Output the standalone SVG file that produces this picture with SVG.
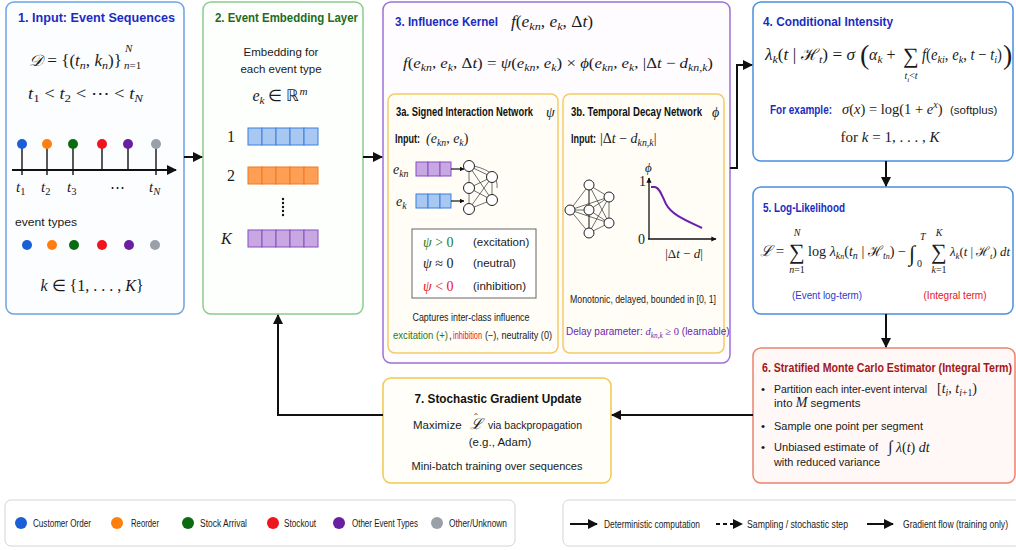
<svg xmlns="http://www.w3.org/2000/svg" width="1016" height="550" viewBox="0 0 1016 550">
<style>
.t{font-family:"Liberation Sans",Arial,sans-serif;font-weight:bold;font-size:12.5px}
.x{font-family:"Liberation Sans",Arial,sans-serif;font-size:11.5px}
.sm{font-family:"Liberation Sans",Arial,sans-serif;font-size:10px}
.m{font-family:"Liberation Serif","Times New Roman",serif;font-style:italic}
.u{font-style:normal}
.s{font-size:70%;baseline-shift:-3px}
.p{font-size:70%;baseline-shift:6px}
.box{stroke-width:1.5}
.ln{stroke:#111;stroke-width:2;fill:none}
.nn{fill:#fff;stroke:#222;stroke-width:1}
.ed{stroke:#333;stroke-width:0.7}
</style>
<defs>
<marker id="ah" viewBox="0 0 10 10" refX="9" refY="5" markerWidth="5" markerHeight="5" orient="auto"><path d="M0,0 L10,5 L0,10 z" fill="#111"/></marker>
<marker id="ah2" viewBox="0 0 10 10" refX="9" refY="5" markerWidth="4" markerHeight="4" orient="auto"><path d="M0,0 L10,5 L0,10 z" fill="#111"/></marker>
</defs>
<rect width="1016" height="550" fill="#fff"/>
<g fill="#1a1a1a">

<!-- Box 1 -->
<g id="n1">
<rect class="box" x="6" y="2" width="178" height="312" rx="8" fill="#fbfdff" stroke="#6aa3e6"/>
<text class="t" x="18" y="22" fill="#1a2cc0" textLength="157" lengthAdjust="spacingAndGlyphs">1. Input: Event Sequences</text>
<text class="m" x="29" y="66" font-size="16" textLength="93" lengthAdjust="spacingAndGlyphs">𝒟 <tspan class="u">= {(</tspan>t<tspan class="s">n</tspan><tspan class="u">, </tspan>k<tspan class="s">n</tspan><tspan class="u">)}</tspan></text>
<text class="m" x="125" y="52" font-size="11">N</text>
<text class="m" x="124" y="69" font-size="11">n<tspan class="u">=1</tspan></text>
<text class="m" x="28" y="99" font-size="16" textLength="115" lengthAdjust="spacingAndGlyphs">t<tspan class="s u">1</tspan><tspan class="u"> &lt; </tspan>t<tspan class="s u">2</tspan><tspan class="u"> &lt; ⋯ &lt; </tspan>t<tspan class="s">N</tspan></text>
<line x1="12" y1="170" x2="176" y2="170" class="ln" stroke-width="1.6" marker-end="url(#ah)"/>
<g stroke="#111" stroke-width="1.4">
<line x1="22" y1="144" x2="22" y2="175"/><line x1="47" y1="144" x2="47" y2="175"/><line x1="73" y1="144" x2="73" y2="175"/><line x1="102" y1="144" x2="102" y2="170"/><line x1="128" y1="144" x2="128" y2="170"/><line x1="156" y1="144" x2="156" y2="175"/>
</g>
<circle cx="22" cy="144" r="5" fill="#1a5fd6"/><circle cx="47" cy="144" r="5" fill="#ff7f0e"/><circle cx="73" cy="144" r="5" fill="#0b6b12"/><circle cx="102" cy="144" r="5" fill="#f0141e"/><circle cx="128" cy="144" r="5" fill="#6a1fa0"/><circle cx="156" cy="144" r="5" fill="#9aa0a8"/>
<text class="m" font-size="15" y="192"><tspan x="16">t<tspan class="s u">1</tspan></tspan><tspan x="41">t<tspan class="s u">2</tspan></tspan><tspan x="67">t<tspan class="s u">3</tspan></tspan><tspan x="110" class="u">⋯</tspan><tspan x="149">t<tspan class="s">N</tspan></tspan></text>
<text class="x" x="15" y="226" textLength="62" lengthAdjust="spacingAndGlyphs">event types</text>
<circle cx="27" cy="245" r="5" fill="#1a5fd6"/><circle cx="52" cy="245" r="5" fill="#ff7f0e"/><circle cx="74" cy="245" r="5" fill="#0b6b12"/><circle cx="102" cy="245" r="5" fill="#f0141e"/><circle cx="129" cy="245" r="5" fill="#6a1fa0"/><circle cx="155" cy="245" r="5" fill="#9aa0a8"/>
<text class="m" x="92" y="291" font-size="16" text-anchor="middle">k <tspan class="u">∈ {1, . . . , </tspan>K<tspan class="u">}</tspan></text>
</g>

<!-- Box 2 -->
<g id="n2">
<rect class="box" x="203" y="2" width="160" height="312" rx="8" fill="#fdfffd" stroke="#8ccb8c"/>
<text class="t" x="215" y="22" fill="#1f6b22" textLength="143" lengthAdjust="spacingAndGlyphs">2. Event Embedding Layer</text>
<text class="x" x="281" y="56" text-anchor="middle">Embedding for</text>
<text class="x" x="281" y="73" text-anchor="middle">each event type</text>
<text class="m" x="280" y="101" font-size="16" text-anchor="middle">e<tspan class="s">k</tspan><tspan class="u"> ∈ ℝ</tspan><tspan class="p">m</tspan></text>
<text class="m u" x="227" y="142" font-size="16">1</text>
<text class="m u" x="227" y="181" font-size="16">2</text>
<text class="m" x="221" y="244" font-size="16">K</text>
<g stroke="#3b7fe0" fill="#a8c8f2" stroke-width="1"><rect x="248" y="128" width="14" height="17"/><rect x="262" y="128" width="14" height="17"/><rect x="276" y="128" width="14" height="17"/><rect x="290" y="128" width="14" height="17"/><rect x="304" y="128" width="14" height="17"/></g>
<g stroke="#f07a20" fill="#ff9e55" stroke-width="1"><rect x="248" y="167" width="14" height="17"/><rect x="262" y="167" width="14" height="17"/><rect x="276" y="167" width="14" height="17"/><rect x="290" y="167" width="14" height="17"/><rect x="304" y="167" width="14" height="17"/></g>
<g stroke="#8a4cc0" fill="#c8a8e2" stroke-width="1"><rect x="248" y="230" width="14" height="17"/><rect x="262" y="230" width="14" height="17"/><rect x="276" y="230" width="14" height="17"/><rect x="290" y="230" width="14" height="17"/><rect x="304" y="230" width="14" height="17"/></g>
<g fill="#111"><circle cx="283" cy="199" r="1.2"/><circle cx="283" cy="203" r="1.2"/><circle cx="283" cy="207" r="1.2"/><circle cx="283" cy="211" r="1.2"/><circle cx="283" cy="215" r="1.2"/></g>
</g>

<!-- Box 3 -->
<g id="n3">
<rect class="box" x="383" y="2" width="347" height="361" rx="8" fill="#fefcff" stroke="#9d70d6"/>
<text class="t" x="395" y="26" fill="#1a2cc0" textLength="103" lengthAdjust="spacingAndGlyphs">3. Influence Kernel</text>
<text class="m" x="511" y="27" font-size="16" textLength="82" lengthAdjust="spacingAndGlyphs">f<tspan class="u">(</tspan>e<tspan class="s">kn</tspan><tspan class="u">, </tspan>e<tspan class="s">k</tspan><tspan class="u">, Δ</tspan>t<tspan class="u">)</tspan></text>
<text class="m" x="403" y="68" font-size="15" textLength="310" lengthAdjust="spacingAndGlyphs">f<tspan class="u">(</tspan>e<tspan class="s">kn</tspan><tspan class="u">, </tspan>e<tspan class="s">k</tspan><tspan class="u">, Δ</tspan>t<tspan class="u">) = </tspan>ψ<tspan class="u">(</tspan>e<tspan class="s">kn</tspan><tspan class="u">, </tspan>e<tspan class="s">k</tspan><tspan class="u">) × </tspan>ϕ<tspan class="u">(</tspan>e<tspan class="s">kn</tspan><tspan class="u">, </tspan>e<tspan class="s">k</tspan><tspan class="u">, |Δ</tspan>t<tspan class="u"> − </tspan>d<tspan class="s">kn,k</tspan><tspan class="u">)</tspan></text>
</g>

<!-- Box 3a -->
<g id="n3a">
<rect class="box" x="388" y="94" width="170" height="259" rx="7" fill="#fffdf6" stroke="#f3cb66"/>
<text class="t" x="396" y="116" font-size="9.6" fill="#111" textLength="137" lengthAdjust="spacingAndGlyphs">3a. Signed Interaction Network</text>
<text class="m" x="546" y="117" font-size="14">ψ</text>
<text class="t" x="395" y="143" font-size="10.5" fill="#111" textLength="25" lengthAdjust="spacingAndGlyphs">Input:</text>
<text class="m" x="426" y="143" font-size="14">(e<tspan class="s">kn</tspan><tspan class="u">, </tspan>e<tspan class="s">k</tspan><tspan class="u">)</tspan></text>
<text class="m" x="393" y="174" font-size="14">e<tspan class="s">kn</tspan></text>
<text class="m" x="396" y="206" font-size="14">e<tspan class="s">k</tspan></text>
<g stroke="#8a4cc0" fill="#c8a8e2" stroke-width="1"><rect x="416" y="162" width="12" height="14"/><rect x="428" y="162" width="12" height="14"/><rect x="440" y="162" width="11" height="14"/></g>
<g stroke="#3b7fe0" fill="#a8c8f2" stroke-width="1"><rect x="416" y="194" width="12" height="14"/><rect x="428" y="194" width="12" height="14"/><rect x="440" y="194" width="11" height="14"/></g>
<line x1="451" y1="169" x2="464" y2="169" stroke="#111" stroke-width="1.2" marker-end="url(#ah2)"/>
<line x1="451" y1="201" x2="464" y2="201" stroke="#111" stroke-width="1.2" marker-end="url(#ah2)"/>
<g class="ed">
<line x1="469" y1="166" x2="492" y2="177"/><line x1="469" y1="166" x2="492" y2="200"/><line x1="469" y1="188" x2="492" y2="177"/><line x1="469" y1="188" x2="492" y2="200"/><line x1="469" y1="209" x2="492" y2="177"/><line x1="469" y1="209" x2="492" y2="200"/>
<line x1="469" y1="166" x2="469" y2="209"/><line x1="492" y1="177" x2="492" y2="200"/>
<path d="M474,166 Q499,172 497,188" fill="none"/>
</g>
<circle class="nn" cx="469" cy="166" r="5.5"/><circle class="nn" cx="469" cy="188" r="5.5"/><circle class="nn" cx="469" cy="209" r="5.5"/><circle class="nn" cx="492" cy="177" r="5.5"/><circle class="nn" cx="492" cy="200" r="5.5"/>
<rect x="412" y="229" width="124" height="69" fill="#fff" stroke="#666" stroke-width="1"/>
<text class="m" x="423" y="247" font-size="14" fill="#1f7a1f">ψ <tspan class="u">&gt; 0</tspan></text>
<text class="m" x="423" y="268" font-size="14">ψ <tspan class="u">≈ 0</tspan></text>
<text class="m" x="423" y="291" font-size="14" fill="#e8141e">ψ <tspan class="u">&lt; 0</tspan></text>
<text class="x" x="473" y="246" font-size="11">(excitation)</text>
<text class="x" x="473" y="267" font-size="11">(neutral)</text>
<text class="x" x="473" y="290" font-size="11">(inhibition)</text>
<text class="sm" x="471" y="321" text-anchor="middle" textLength="117" lengthAdjust="spacingAndGlyphs">Captures inter-class influence</text>
<text class="sm" x="393" y="339" font-size="9" fill="#1f7a1f" textLength="55" lengthAdjust="spacingAndGlyphs">excitation (+)</text>
<text class="sm" x="449" y="339" font-size="9">,</text>
<text class="sm" x="453" y="339" font-size="9" fill="#e8141e" textLength="29" lengthAdjust="spacingAndGlyphs">inhibition</text>
<text class="sm" x="485" y="339" font-size="9" textLength="67" lengthAdjust="spacingAndGlyphs">(−), neutrality (0)</text>
</g>

<!-- Box 3b -->
<g id="n3b">
<rect class="box" x="563" y="94" width="161" height="259" rx="7" fill="#fffdf6" stroke="#f3cb66"/>
<text class="t" x="571" y="116" font-size="9.8" fill="#111" textLength="131" lengthAdjust="spacingAndGlyphs">3b. Temporal Decay Network</text>
<text class="m" x="712" y="117" font-size="14">ϕ</text>
<text class="t" x="571" y="143" font-size="10.5" fill="#111" textLength="25" lengthAdjust="spacingAndGlyphs">Input:</text>
<text class="m" x="600" y="143" font-size="14"><tspan class="u">|Δ</tspan>t<tspan class="u"> − </tspan>d<tspan class="s">kn,k</tspan><tspan class="u">|</tspan></text>
<g class="ed">
<line x1="589" y1="185" x2="570" y2="210"/><line x1="589" y1="185" x2="589" y2="210"/><line x1="589" y1="185" x2="609" y2="197"/><line x1="589" y1="185" x2="609" y2="223"/><line x1="589" y1="185" x2="589" y2="233"/>
<line x1="570" y1="210" x2="589" y2="210"/><line x1="570" y1="210" x2="589" y2="233"/><line x1="570" y1="210" x2="609" y2="197"/>
<line x1="589" y1="210" x2="609" y2="197"/><line x1="589" y1="210" x2="609" y2="223"/><line x1="589" y1="210" x2="589" y2="233"/>
<line x1="609" y1="197" x2="609" y2="223"/><line x1="609" y1="197" x2="589" y2="233"/><line x1="609" y1="223" x2="589" y2="233"/><line x1="609" y1="223" x2="570" y2="210"/>
</g>
<circle class="nn" cx="589" cy="185" r="5"/><circle class="nn" cx="570" cy="210" r="5"/><circle class="nn" cx="589" cy="210" r="5"/><circle class="nn" cx="609" cy="197" r="5"/><circle class="nn" cx="609" cy="223" r="5"/><circle class="nn" cx="589" cy="233" r="5"/>
<line x1="649" y1="239" x2="649" y2="178" stroke="#111" stroke-width="1.3" marker-end="url(#ah2)"/>
<line x1="648" y1="239" x2="716" y2="239" stroke="#111" stroke-width="1.3" marker-end="url(#ah2)"/>
<text class="m" x="645" y="172" font-size="13">ϕ</text>
<text class="m u" x="639" y="186" font-size="14">1</text>
<text class="m u" x="638" y="244" font-size="14">0</text>
<text class="m" x="684" y="258" font-size="13" text-anchor="middle"><tspan class="u">|Δ</tspan>t<tspan class="u"> − </tspan>d<tspan class="u">|</tspan></text>
<path d="M651,187 L655,187 C660,188 662,196 666,204 C672,215 685,220 702,228" fill="none" stroke="#6a1fb0" stroke-width="2"/>
<text class="sm" x="643" y="303" text-anchor="middle" textLength="146" lengthAdjust="spacingAndGlyphs">Monotonic, delayed, bounded in [0, 1]</text>
<text class="sm" x="566" y="335" fill="#6a1fb0" font-size="9.5">Delay parameter: <tspan class="m" font-size="10.5">d<tspan class="s">kn,k</tspan><tspan class="u"> ≥ 0</tspan></tspan> (learnable)</text>
</g>

<!-- Box 4 -->
<g id="n4">
<rect class="box" x="753" y="2" width="260" height="159" rx="8" fill="#fff" stroke="#4a8fe0"/>
<text class="t" x="763" y="26" fill="#1a2cc0" textLength="130" lengthAdjust="spacingAndGlyphs">4. Conditional Intensity</text>
<text class="m" x="765" y="60" font-size="16" textLength="90" lengthAdjust="spacingAndGlyphs">λ<tspan class="s">k</tspan><tspan class="u">(</tspan>t<tspan class="u"> | ℋ</tspan><tspan class="s">t</tspan><tspan class="u">) = </tspan>σ</text>
<text class="m u" x="860" y="64" font-size="28">(</text>
<text class="m" x="869" y="60" font-size="16">α<tspan class="s">k</tspan><tspan class="u"> +</tspan></text>
<text class="m u" x="903" y="63" font-size="22">∑</text>
<text class="m" x="911" y="79" font-size="10" text-anchor="middle">t<tspan class="s">i</tspan><tspan class="u">&lt;</tspan>t</text>
<text class="m" x="922" y="60" font-size="16" textLength="80" lengthAdjust="spacingAndGlyphs">f<tspan class="u">(</tspan>e<tspan class="s">ki</tspan><tspan class="u">, </tspan>e<tspan class="s">k</tspan><tspan class="u">, </tspan>t<tspan class="u"> − </tspan>t<tspan class="s">i</tspan><tspan class="u">)</tspan></text>
<text class="m u" x="1003" y="64" font-size="28">)</text>
<text class="t" x="770" y="114" fill="#1a2cc0" font-size="11.5" textLength="62" lengthAdjust="spacingAndGlyphs">For example:</text>
<text class="m" x="842" y="114" font-size="14.5">σ<tspan class="u">(</tspan>x<tspan class="u">) = log(1 + </tspan>e<tspan class="p">x</tspan><tspan class="u">)</tspan></text>
<text class="x" x="950" y="114" font-size="11">(softplus)</text>
<text class="m" x="890" y="142" font-size="15" text-anchor="middle"><tspan class="u">for </tspan>k<tspan class="u"> = 1, . . . , </tspan>K</text>
</g>

<!-- Box 5 -->
<g id="n5">
<rect class="box" x="753" y="187" width="260" height="127" rx="8" fill="#fff" stroke="#4a8fe0"/>
<text class="t" x="763" y="212" fill="#1a2cc0" textLength="82" lengthAdjust="spacingAndGlyphs">5. Log-Likelihood</text>
<text class="m" x="760" y="256" font-size="15">ℒ <tspan class="u">=</tspan></text>
<text class="m u" x="789" y="259" font-size="22">∑</text>
<text class="m" x="797" y="236" font-size="10" text-anchor="middle">N</text>
<text class="m" x="797" y="273" font-size="10" text-anchor="middle">n<tspan class="u">=1</tspan></text>
<text class="m" x="808" y="256" font-size="14" textLength="98" lengthAdjust="spacingAndGlyphs"><tspan class="u">log </tspan>λ<tspan class="s">k<tspan font-size="80%">n</tspan></tspan><tspan class="u">(</tspan>t<tspan class="s">n</tspan><tspan class="u"> | ℋ</tspan><tspan class="s">t<tspan font-size="80%">n</tspan></tspan><tspan class="u">) −</tspan></text>
<text class="m u" x="909" y="261" font-size="22">∫</text>
<text class="m" x="920" y="240" font-size="10">T</text>
<text class="m u" x="917" y="267" font-size="10">0</text>
<text class="m u" x="931" y="259" font-size="22">∑</text>
<text class="m" x="939" y="236" font-size="10" text-anchor="middle">K</text>
<text class="m" x="939" y="273" font-size="10" text-anchor="middle">k<tspan class="u">=1</tspan></text>
<text class="m" x="950" y="256" font-size="13" textLength="60" lengthAdjust="spacingAndGlyphs">λ<tspan class="s">k</tspan><tspan class="u">(</tspan>t<tspan class="u"> | ℋ</tspan><tspan class="s">t</tspan><tspan class="u">) </tspan>dt</text>
<text class="x" x="827" y="299" fill="#2a3ad0" font-size="11" text-anchor="middle" textLength="70" lengthAdjust="spacingAndGlyphs">(Event log-term)</text>
<text class="x" x="955" y="299" fill="#e8141e" font-size="11" text-anchor="middle" textLength="63" lengthAdjust="spacingAndGlyphs">(Integral term)</text>
</g>

<!-- Box 6 -->
<g id="n6">
<rect class="box" x="753" y="348" width="262" height="135" rx="8" fill="#fff8f6" stroke="#e8846c"/>
<text class="t" x="762" y="372" fill="#a31818" textLength="250" lengthAdjust="spacingAndGlyphs">6. Stratified Monte Carlo Estimator (Integral Term)</text>
<g class="x" font-size="11.5">
<text x="761" y="393">•</text><text x="761" y="430">•</text><text x="761" y="451">•</text>
<text x="774" y="393" textLength="153" lengthAdjust="spacingAndGlyphs">Partition each inter-event interval</text>
<text x="774" y="407">into <tspan class="m" font-size="14">M</tspan> segments</text>
<text x="774" y="430" textLength="149" lengthAdjust="spacingAndGlyphs">Sample one point per segment</text>
<text x="774" y="451" textLength="104" lengthAdjust="spacingAndGlyphs">Unbiased estimate of</text>
<text x="774" y="466" textLength="106" lengthAdjust="spacingAndGlyphs">with reduced variance</text>
</g>
<text class="m" x="937" y="393" font-size="14"><tspan class="u">[</tspan>t<tspan class="s">i</tspan><tspan class="u">, </tspan>t<tspan class="s">i<tspan class="u">+1</tspan></tspan><tspan class="u">)</tspan></text>
<text class="m" x="888" y="452" font-size="14"><tspan class="u" font-size="16">∫</tspan>  λ<tspan class="u">(</tspan>t<tspan class="u">)  </tspan>dt</text>
</g>

<!-- Box 7 -->
<g id="n7">
<rect class="box" x="383" y="378" width="228" height="105" rx="8" fill="#fffef9" stroke="#f3c84e"/>
<text class="t" x="498" y="403" fill="#111" text-anchor="middle" textLength="167" lengthAdjust="spacingAndGlyphs">7. Stochastic Gradient Update</text>
<text class="x" x="413" y="429">Maximize</text>
<text class="m" x="470" y="429" font-size="15">ℒ</text>
<text class="m u" x="474" y="421" font-size="11">ˆ</text>
<text class="x" x="488" y="429" textLength="94" lengthAdjust="spacingAndGlyphs">via backpropagation</text>
<text class="x" x="500" y="446" text-anchor="middle">(e.g., Adam)</text>
<text class="x" x="497" y="470" text-anchor="middle" textLength="171" lengthAdjust="spacingAndGlyphs">Mini-batch training over sequences</text>
</g>
</g>

<!-- Connectors -->
<g id="connectors" fill="none" stroke="#111" stroke-width="2">
<line x1="184" y1="157" x2="202" y2="157" marker-end="url(#ah)"/>
<line x1="363" y1="157" x2="382" y2="157" marker-end="url(#ah)"/>
<polyline points="730,168 737,168 737,65 752,65" marker-end="url(#ah)"/>
<line x1="886" y1="161" x2="886" y2="186" marker-end="url(#ah)"/>
<line x1="886" y1="314" x2="886" y2="347" marker-end="url(#ah)"/>
<line x1="753" y1="415" x2="612" y2="415" marker-end="url(#ah)"/>
<polyline points="383,415 278,415 278,315" marker-end="url(#ah)"/>
</g>

<!-- Legends -->
<g id="legend-events" fill="#1a1a1a">
<rect x="5" y="500" width="510" height="46" rx="6" fill="#fff" stroke="#d4d4d4" stroke-width="1"/>
<circle cx="21" cy="523" r="6" fill="#1a5fd6"/><circle cx="117" cy="523" r="6" fill="#ff7f0e"/><circle cx="188" cy="523" r="6" fill="#0b6b12"/><circle cx="273" cy="523" r="6" fill="#f0141e"/><circle cx="339" cy="523" r="6" fill="#6a1fa0"/><circle cx="437" cy="523" r="6" fill="#9aa0a8"/>
<g class="sm">
<text x="33" y="527" textLength="58" lengthAdjust="spacingAndGlyphs">Customer Order</text>
<text x="131" y="527" textLength="28" lengthAdjust="spacingAndGlyphs">Reorder</text>
<text x="200" y="527" textLength="47" lengthAdjust="spacingAndGlyphs">Stock Arrival</text>
<text x="284" y="527" textLength="32" lengthAdjust="spacingAndGlyphs">Stockout</text>
<text x="352" y="527" textLength="66" lengthAdjust="spacingAndGlyphs">Other Event Types</text>
<text x="449" y="527" textLength="58" lengthAdjust="spacingAndGlyphs">Other/Unknown</text>
</g>
</g>
<g id="legend-edges" fill="#1a1a1a">
<rect x="563" y="500" width="460" height="46" rx="6" fill="#fff" stroke="#d4d4d4" stroke-width="1"/>
<g stroke="#111" stroke-width="2" fill="none">
<line x1="570" y1="524" x2="597" y2="524" marker-end="url(#ah)"/>
<line x1="716" y1="524" x2="742" y2="524" stroke-dasharray="4,3" marker-end="url(#ah)"/>
<line x1="867" y1="524" x2="893" y2="524" marker-end="url(#ah)"/>
</g>
<g class="sm">
<text x="604" y="528" textLength="96" lengthAdjust="spacingAndGlyphs">Deterministic computation</text>
<text x="747" y="528" textLength="101" lengthAdjust="spacingAndGlyphs">Sampling / stochastic step</text>
<text x="903" y="528" textLength="105" lengthAdjust="spacingAndGlyphs">Gradient flow (training only)</text>
</g>
</g>
</svg>
